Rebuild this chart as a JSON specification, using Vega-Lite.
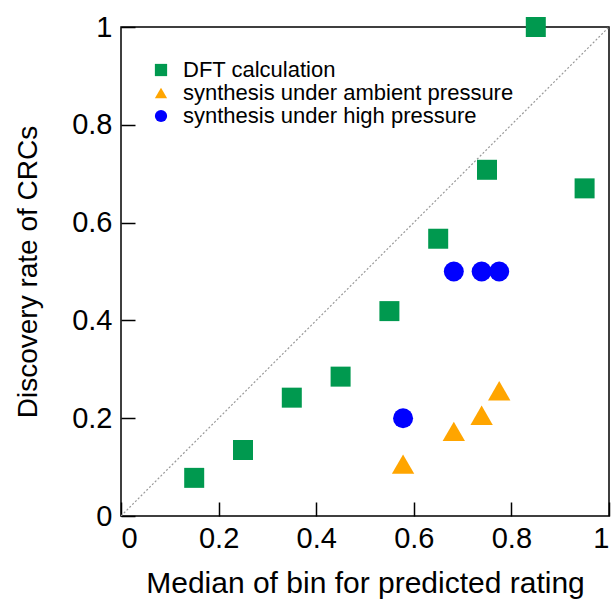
{
  "$schema": "https://vega.github.io/schema/vega-lite/v6.json",
  "width": 488,
  "height": 489,
  "autosize": {"type": "none"},
  "padding": {"left": 121, "top": 27, "right": 4, "bottom": 83},
  "background": "white",
  "config": {
    "font": "Liberation Sans",
    "view": {"stroke": "black", "strokeWidth": 1.5},
    "axis": {
      "grid": false,
      "domain": false,
      "tickColor": "black",
      "tickWidth": 1.5,
      "tickSize": -14,
      "labelFont": "Liberation Sans",
      "labelFontSize": 29,
      "labelColor": "black",
      "titleFont": "Liberation Sans",
      "titleFontWeight": "normal",
      "titleColor": "black"
    }
  },
  "datasets": {
    "points": [
      {"rating": 0.15, "rate": 0.078, "series": "DFT calculation"},
      {"rating": 0.25, "rate": 0.135, "series": "DFT calculation"},
      {"rating": 0.35, "rate": 0.242, "series": "DFT calculation"},
      {"rating": 0.45, "rate": 0.285, "series": "DFT calculation"},
      {"rating": 0.55, "rate": 0.419, "series": "DFT calculation"},
      {"rating": 0.65, "rate": 0.567, "series": "DFT calculation"},
      {"rating": 0.75, "rate": 0.708, "series": "DFT calculation"},
      {"rating": 0.85, "rate": 1.0, "series": "DFT calculation"},
      {"rating": 0.95, "rate": 0.67, "series": "DFT calculation"},
      {"rating": 0.578, "rate": 0.1, "series": "synthesis under ambient pressure"},
      {"rating": 0.682, "rate": 0.167, "series": "synthesis under ambient pressure"},
      {"rating": 0.739, "rate": 0.2, "series": "synthesis under ambient pressure"},
      {"rating": 0.775, "rate": 0.25, "series": "synthesis under ambient pressure"},
      {"rating": 0.578, "rate": 0.2, "series": "synthesis under high pressure"},
      {"rating": 0.682, "rate": 0.5, "series": "synthesis under high pressure"},
      {"rating": 0.739, "rate": 0.5, "series": "synthesis under high pressure"},
      {"rating": 0.775, "rate": 0.5, "series": "synthesis under high pressure"}
    ],
    "diagonal": [
      {"rating": 0, "rate": 0},
      {"rating": 1, "rate": 1}
    ]
  },
  "layer": [
    {
      "data": {"name": "diagonal"},
      "mark": {"type": "line", "color": "#999999", "strokeWidth": 1.2, "strokeDash": [2, 2], "clip": true},
      "encoding": {
        "x": {"field": "rating", "type": "quantitative"},
        "y": {"field": "rate", "type": "quantitative"}
      }
    },
    {
      "data": {"name": "points"},
      "mark": {
        "type": "point",
        "filled": true,
        "opacity": 1,
        "clip": false,
        "size": {"expr": "datum.series == 'synthesis under ambient pressure' ? 500 : 400"},
        "yOffset": {"expr": "datum.series == 'synthesis under ambient pressure' ? -3 : 0"}
      },
      "encoding": {
        "x": {
          "field": "rating",
          "type": "quantitative",
          "scale": {"domain": [0, 1], "nice": false, "zero": false},
          "axis": {
            "title": "Median of bin for predicted rating",
            "titleFontSize": 30,
            "values": [0, 0.2, 0.4, 0.6, 0.8, 1],
            "labelExpr": "datum.value == 0 ? '0' : datum.value == 1 ? '1' : format(datum.value, '.1f')",
            "labelPadding": 22,
            "titlePadding": 15
          }
        },
        "y": {
          "field": "rate",
          "type": "quantitative",
          "scale": {"domain": [0, 1], "nice": false, "zero": false},
          "axis": {
            "title": "Discovery rate of CRCs",
            "titleFontSize": 28,
            "values": [0, 0.2, 0.4, 0.6, 0.8, 1],
            "labelExpr": "datum.value == 0 ? '0' : datum.value == 1 ? '1' : format(datum.value, '.1f')",
            "labelPadding": 23,
            "titlePadding": 29
          }
        },
        "color": {
          "field": "series",
          "type": "nominal",
          "scale": {
            "domain": ["DFT calculation", "synthesis under ambient pressure", "synthesis under high pressure"],
            "range": ["#00994f", "#ffa500", "#0000ff"]
          },
          "legend": {
            "title": null,
            "orient": "none",
            "legendX": 29,
            "legendY": 32,
            "labelFontSize": 22,
            "labelFont": "Liberation Sans",
            "labelColor": "black",
            "labelLimit": 0,
            "rowPadding": 1,
            "labelOffset": 11,
            "symbolSize": 150,
            "symbolOpacity": 1
          }
        },
        "shape": {
          "field": "series",
          "type": "nominal",
          "scale": {
            "domain": ["DFT calculation", "synthesis under ambient pressure", "synthesis under high pressure"],
            "range": ["square", "triangle-up", "circle"]
          }
        }
      }
    }
  ]
}
